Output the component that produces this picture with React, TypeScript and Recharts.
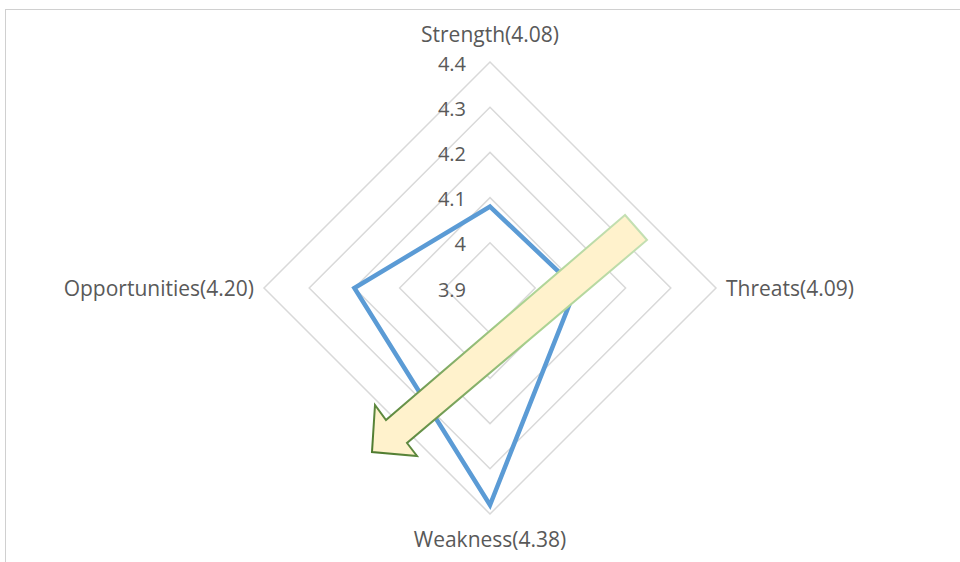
import React from 'react';
import { RadarChart, Radar, PolarGrid, PolarAngleAxis, PolarRadiusAxis } from 'recharts';

const factors = ['Strength', 'Threats', 'Weakness', 'Opportunities'];
const scores = [4.08, 4.09, 4.38, 4.2];
const radiusTicks = [3.9, 4, 4.1, 4.2, 4.3, 4.4];

const data = factors.map((f, i) => ({ label: `${f}(${scores[i].toFixed(2)})`, score: scores[i] }));

const W = 960;
const H = 562;
const CX = 490;
const CY = 288;
const R = 226;
const textColor = '#595959';
const font = '"Open Sans", "Noto Sans", sans-serif';

function AngleTick(props: any) {
  const { payload } = props;
  const a = (payload.coordinate * Math.PI) / 180;
  const dx = Math.cos(a);
  const dy = -Math.sin(a);
  const vertical = Math.abs(dy) > 0.5;
  const x = CX + dx * (R + (vertical ? 0 : 10));
  const y = CY + dy * (R + (vertical ? (dy < 0 ? 28 : 25) : 0));
  const anchor = vertical ? 'middle' : dx > 0 ? 'start' : 'end';
  return (
    <text x={x} y={y} textAnchor={anchor} dominantBaseline="central" fill={textColor} fontSize={21} fontFamily={font}>
      {payload.value}
    </text>
  );
}

function RadiusTick(props: any) {
  const { x, y, payload } = props;
  return (
    <text x={x - 24} y={y + 1} textAnchor="end" dominantBaseline="central" fill={textColor} fontSize={20} fontFamily={font}>
      {Number(Number(payload.value).toFixed(1)).toString()}
    </text>
  );
}

// annotation arrow, offsets from the chart centre
const arrow = [
  [135, -73], [-104, 132], [-115, 117], [-118, 164], [-73, 168], [-83, 155], [157, -48],
];

export default function App() {
  return (
    <div style={{ position: 'fixed', left: 0, top: 0, width: W, height: H, overflow: 'hidden', background: '#fff' }}>
      <div style={{ position: 'absolute', left: 5, top: 9, width: 1000, height: 700, border: '1px solid #d0d0d0' }} />
      <div style={{ position: 'absolute', left: 0, top: 0 }}>
        <RadarChart width={W} height={H} data={data} cx={CX} cy={CY} outerRadius={R} startAngle={90} endAngle={-270}>
          <PolarGrid gridType="polygon" radialLines={false} stroke="#d9d9d9" strokeWidth={1.5} />
          <PolarAngleAxis dataKey="label" tick={AngleTick} axisLine={false} tickLine={false} />
          <PolarRadiusAxis
            angle={90}
            domain={[3.9, 4.4]}
            ticks={radiusTicks as any}
            tickCount={6}
            axisLine={false}
            tickLine={false}
            tick={RadiusTick}
          />
          <Radar dataKey="score" stroke="#5b9bd5" strokeWidth={4.5} fill="none" fillOpacity={0} dot={false} isAnimationActive={false} />
        </RadarChart>
      </div>
      <svg width={W} height={H} style={{ position: 'absolute', left: 0, top: 0, pointerEvents: 'none' }}>
        <defs>
          <linearGradient id="arrowStroke" gradientUnits="userSpaceOnUse" x1={CX + 157} y1={CY - 60} x2={CX - 118} y2={CY + 164}>
            <stop offset="0" stopColor="#c5e0b4" />
            <stop offset="0.45" stopColor="#a9d18e" />
            <stop offset="1" stopColor="#4e7a2e" />
          </linearGradient>
        </defs>
        <polygon
          points={arrow.map(([dx, dy]) => `${CX + dx},${CY + dy}`).join(' ')}
          fill="#fff2cc"
          stroke="url(#arrowStroke)"
          strokeWidth={2}
          strokeLinejoin="miter"
        />
      </svg>
    </div>
  );
}
